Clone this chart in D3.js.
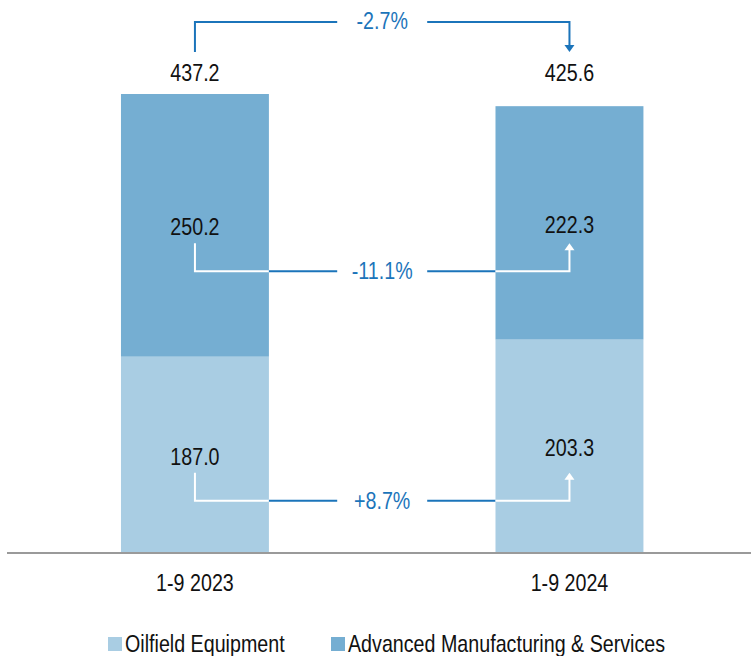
<!DOCTYPE html>
<html><head><meta charset="utf-8">
<script src="https://cdn.jsdelivr.net/npm/d3@7"></script>
<style>body{margin:0;background:#fff}svg{display:block}</style>
</head><body>
<svg id="c" width="751" height="656"></svg>
<script>
const categories = ["1-9 2023", "1-9 2024"];
const oilfield = [187.0, 203.3];
const advanced = [250.2, 222.3];
const totals = [437.2, 425.6];
const changes = ["-2.7%", "-11.1%", "+8.7%"];
const seriesNames = ["Oilfield Equipment", "Advanced Manufacturing & Services"];

const W = 751, H = 656;
const FONT = "'Liberation Sans', Arial, sans-serif";
const FS = 24, SX = 0.82; // emulate a narrow face
const cLight = "#a9cde3", cDark = "#75aed2", blue = "#1b74ba", txt = "#111";
const svg = d3.select("#c");
const base = 553;
const x = d3.scaleBand().domain(categories).range([0, 764.4]).paddingInner(0.605).paddingOuter(0.323);
const y = d3.scaleLinear().domain([0, 437.2]).range([base, 94]);

const data = categories.map((c, i) => ({c, o: oilfield[i], a: advanced[i], t: totals[i]}));
const g = svg.append("g");
g.selectAll(".lo").data(data).join("rect")
  .attr("x", d => x(d.c)).attr("width", x.bandwidth())
  .attr("y", d => y(d.o)).attr("height", d => y(0) - y(d.o)).attr("fill", cLight);
g.selectAll(".hi").data(data).join("rect")
  .attr("x", d => x(d.c)).attr("width", x.bandwidth())
  .attr("y", d => y(d.o + d.a)).attr("height", d => y(d.o) - y(d.o + d.a)).attr("fill", cDark);

// baseline
svg.append("line").attr("x1", 7).attr("x2", W).attr("y1", base).attr("y2", base)
  .attr("stroke", "#9a9a9a").attr("stroke-width", 2);

// category axis
const xAxis = d3.axisBottom(x).tickSize(0).tickPadding(0);
const ax = svg.append("g").attr("transform", `translate(0,${base + 38})`).call(xAxis);
ax.select(".domain").remove();
ax.selectAll("text").attr("font-family", FONT).attr("font-size", FS).attr("fill", txt)
  .attr("y", 0).attr("dy", 0).attr("transform", `scale(${SX},1)`);

function txtAt(px, py, t, col, anchor) {
  svg.append("g").attr("transform", `translate(${px},${py}) scale(${SX},1)`)
    .append("text").attr("text-anchor", anchor || "middle")
    .attr("font-family", FONT).attr("font-size", FS).attr("fill", col || txt).text(t);
}

const cx = d => x(d) + x.bandwidth() / 2;
const fmt = d3.format(".1f");

// totals
const topY = y(d3.max(totals)) - 13;
data.forEach(d => txtAt(cx(d.c), topY, fmt(d.t)));
// segment labels
const aLab = data.map(d => (y(d.o) + y(d.o + d.a)) / 2 + 10);
const oLab = data.map(d => (y(0) + y(d.o)) / 2 + 10);
data.forEach((d, i) => { txtAt(cx(d.c), aLab[i], fmt(d.a)); txtAt(cx(d.c), oLab[i], fmt(d.o)); });

const x0 = cx(categories[0]), x1 = cx(categories[1]);
const xm = (x0 + x1) / 2;
const b0r = x(categories[0]) + x.bandwidth(), b1l = x(categories[1]);
const gapHalf = 45;

function arrowHead(px, py, dir, col) {
  const s = 5, h = 7;
  const pts = dir === "down" ? [[px - s, py - h], [px + s, py - h], [px, py]] : [[px - s, py + h], [px + s, py + h], [px, py]];
  svg.append("path").attr("d", d3.line()(pts) + "Z").attr("fill", col);
}
const seg = (pts, col) => svg.append("path").attr("d", d3.line()(pts)).attr("fill", "none")
  .attr("stroke", col).attr("stroke-width", 2);

// top connector
const ty = 22;
seg([[x0, 52], [x0, ty], [xm - gapHalf, ty]], blue);
seg([[xm + gapHalf, ty], [x1, ty], [x1, 46]], blue);
arrowHead(x1, 52, "down", blue);
txtAt(xm, ty + 7, changes[0], blue);

// inner connectors
function inner(ly, tipY, t) {
  seg([[x0, tipY], [x0, ly], [b0r, ly]], "#fff");
  seg([[b0r, ly], [xm - gapHalf, ly]], blue);
  seg([[xm + gapHalf, ly], [b1l, ly]], blue);
  seg([[b1l, ly], [x1, ly], [x1, tipY + 5]], "#fff");
  arrowHead(x1, tipY, "up", "#fff");
  txtAt(xm, ly + 8, t, blue);
}
inner(aLab[0] + 36, aLab[0] + 8, changes[1]);
inner(oLab[0] + 36, oLab[0] + 8, changes[2]);

// legend
const legItems = [{n: seriesNames[0], c: cLight, x: 108}, {n: seriesNames[1], c: cDark, x: 331}];
legItems.forEach(it => {
  svg.append("rect").attr("x", it.x).attr("y", 637).attr("width", 14).attr("height", 14).attr("fill", it.c);
  txtAt(it.x + 17, 652, it.n, txt, "start");
});
</script>
</body></html>
